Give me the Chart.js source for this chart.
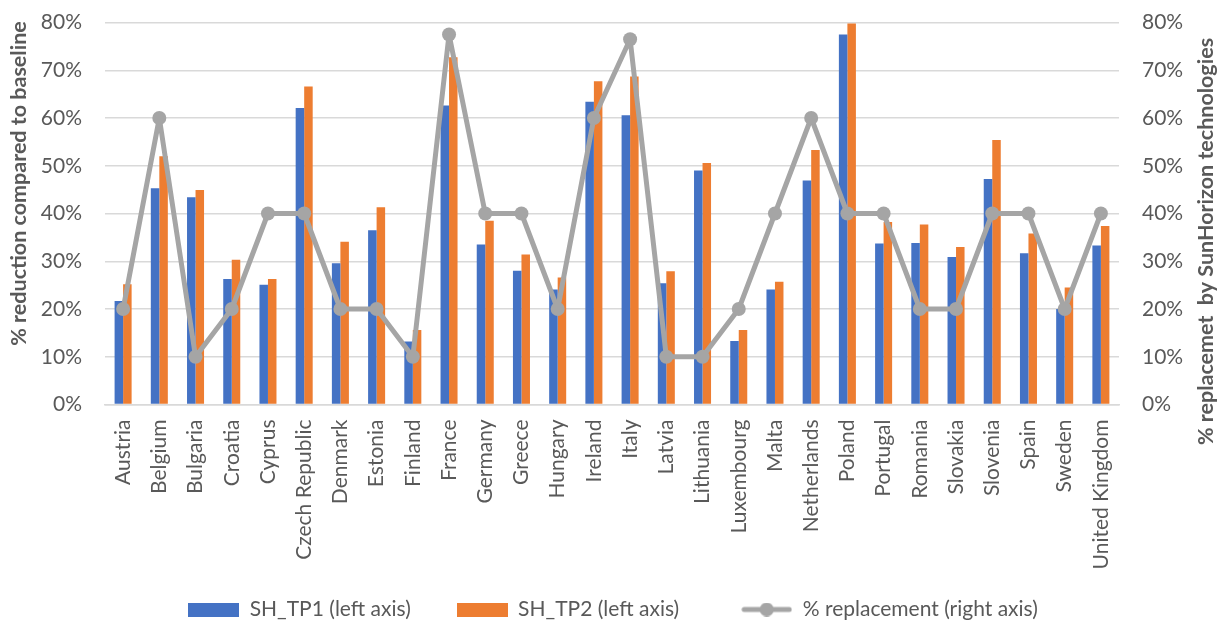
<!DOCTYPE html>
<html>
<head>
<meta charset="utf-8">
<script src="https://cdn.jsdelivr.net/npm/chart.js@4"></script>
<style>
  html, body { margin: 0; padding: 0; background: #ffffff; }
  #wrap { width: 1226px; height: 630px; }
</style>
</head>
<body>
<div id="wrap"><canvas id="chart" width="1226" height="630"></canvas></div>
<script>
// Countries on the category axis
const countries = [
  'Austria', 'Belgium', 'Bulgaria', 'Croatia', 'Cyprus', 'Czech Republic', 'Denmark',
  'Estonia', 'Finland', 'France', 'Germany', 'Greece', 'Hungary', 'Ireland', 'Italy',
  'Latvia', 'Lithuania', 'Luxembourg', 'Malta', 'Netherlands', 'Poland', 'Portugal',
  'Romania', 'Slovakia', 'Slovenia', 'Spain', 'Sweden', 'United Kingdom'
];

// % reduction compared to baseline (left axis)
const shTp1 = [
  21.7, 45.3, 43.4, 26.3, 25.1, 62.1, 29.6, 36.5, 13.2, 62.6, 33.5, 28.0, 24.1, 63.4,
  60.6, 25.4, 49.0, 13.3, 24.1, 46.9, 77.5, 33.7, 33.8, 30.9, 47.2, 31.7, 20.0, 33.3
];
const shTp2 = [
  25.2, 52.0, 44.9, 30.3, 26.3, 66.6, 34.1, 41.3, 15.6, 72.7, 38.5, 31.4, 26.6, 67.7,
  68.7, 27.9, 50.6, 15.6, 25.7, 53.3, 79.8, 38.2, 37.7, 33.0, 55.4, 35.8, 24.5, 37.4
];

// % replacement by SunHorizon technologies (right axis)
const replacement = [
  20, 60, 10, 20, 40, 40, 20, 20, 10, 77.5, 40, 40, 20, 60,
  76.5, 10, 10, 20, 40, 60, 40, 40, 20, 20, 40, 40, 20, 40
];

// Axis tick values (percent)
const axisTicks = [0, 10, 20, 30, 40, 50, 60, 70, 80];

const seriesNames = ['SH_TP1 (left axis)', 'SH_TP2 (left axis)', '% replacement (right axis)'];
const leftTitle = '% reduction compared to baseline';
const rightTitle = '% replacemet  by SunHorizon technologies';

const BLUE = '#4472c4';
const ORANGE = '#ed7d31';
const GREY = '#a5a5a5';
const TEXT = '#595959';
const GRID = '#d9d9d9';
const FONT = 'Lato, "Open Sans", "Noto Sans", sans-serif';

// Legend swatches
function swatch(kind, color) {
  const c = document.createElement('canvas');
  c.width = 51; c.height = 14;
  const g = c.getContext('2d');
  if (kind === 'box') {
    g.fillStyle = color;
    g.fillRect(0, 0, 51, 14);
  } else {
    g.strokeStyle = color;
    g.lineWidth = 5;
    g.lineCap = 'round';
    g.beginPath(); g.moveTo(3, 7); g.lineTo(48, 7); g.stroke();
    g.fillStyle = color;
    g.beginPath(); g.arc(25.5, 7, 7, 0, Math.PI * 2); g.fill();
  }
  return c;
}
const legendMarks = [swatch('box', BLUE), swatch('box', ORANGE), swatch('line', GREY)];
// trailing space widens the first two legend entries so the items sit further apart
const legendGaps = ['     ', '        ', ''];

// Rotated axis titles
const axisTitlePlugin = {
  id: 'axisTitles',
  afterDraw(chart) {
    const ctx = chart.ctx;
    const area = chart.chartArea;
    ctx.save();
    ctx.fillStyle = TEXT;
    ctx.font = 'bold 21.5px ' + FONT;
    ctx.textAlign = 'center';
    ctx.textBaseline = 'middle';
    ctx.save();
    ctx.translate(19, area.top + 161);
    ctx.rotate(-Math.PI / 2);
    ctx.fillText(leftTitle, 0, 0);
    ctx.restore();
    ctx.save();
    ctx.translate(1206, area.top + 219);
    ctx.rotate(-Math.PI / 2);
    ctx.fillText(rightTitle, 0, 0);
    ctx.restore();
    ctx.restore();
  }
};

const pct = v => v + '%';

// Value axes: fixed width, fixed top margin above the 80% line
function fitValueAxis(width) {
  return scale => {
    scale.width = width;
    scale.paddingTop = 22.5;
    scale.paddingBottom = 0;
  };
}

new Chart(document.getElementById('chart'), {
  type: 'bar',
  data: {
    labels: countries,
    datasets: [
      {
        type: 'line',
        label: seriesNames[2],
        data: replacement,
        yAxisID: 'y1',
        borderColor: GREY,
        backgroundColor: GREY,
        borderWidth: 5,
        borderJoinStyle: 'round',
        borderCapStyle: 'round',
        pointRadius: 7,
        pointHoverRadius: 7,
        pointBackgroundColor: GREY,
        pointBorderWidth: 0,
        tension: 0,
        fill: false
      },
      {
        label: seriesNames[0],
        data: shTp1,
        yAxisID: 'y',
        backgroundColor: BLUE,
        borderWidth: 0,
        categoryPercentage: 0.47,
        barPercentage: 1.0
      },
      {
        label: seriesNames[1],
        data: shTp2,
        yAxisID: 'y',
        backgroundColor: ORANGE,
        borderWidth: 0,
        categoryPercentage: 0.47,
        barPercentage: 1.0
      }
    ]
  },
  options: {
    responsive: false,
    animation: false,
    layout: { padding: 0 },
    plugins: {
      tooltip: { enabled: false },
      legend: {
        position: 'bottom',
        labels: {
          usePointStyle: true,
          pointStyleWidth: 51,
          boxHeight: 14,
          padding: 19,
          color: TEXT,
          font: { family: FONT, size: 21 },
          generateLabels() {
            return [1, 2, 0].map((di, k) => ({
              text: seriesNames[k] + legendGaps[k],
              fillStyle: [BLUE, ORANGE, GREY][k],
              strokeStyle: [BLUE, ORANGE, GREY][k],
              lineWidth: 0,
              pointStyle: legendMarks[k],
              fontColor: TEXT,
              hidden: false,
              datasetIndex: di
            }));
          }
        }
      }
    },
    scales: {
      x: {
        grid: { display: false },
        border: { display: true, color: GRID, width: 1.5 },
        ticks: {
          autoSkip: false,
          minRotation: 90,
          maxRotation: 90,
          padding: 7,
          color: TEXT,
          font: { family: FONT, size: 21 }
        },
        afterFit(scale) { scale.height = 175.5; }
      },
      y: {
        position: 'left',
        min: 0,
        max: 80,
        afterBuildTicks(scale) { scale.ticks = axisTicks.map(v => ({ value: v })); },
        grid: { color: GRID, lineWidth: 1.5, drawTicks: false },
        border: { display: false },
        ticks: {
          padding: 23,
          color: TEXT,
          font: { family: FONT, size: 21 },
          callback: pct
        },
        afterFit: fitValueAxis(105)
      },
      y1: {
        position: 'right',
        min: 0,
        max: 80,
        afterBuildTicks(scale) { scale.ticks = axisTicks.map(v => ({ value: v })); },
        grid: { display: false, drawTicks: false },
        border: { display: false },
        ticks: {
          padding: 23,
          color: TEXT,
          font: { family: FONT, size: 21 },
          callback: pct
        },
        afterFit: fitValueAxis(107)
      }
    }
  },
  plugins: [axisTitlePlugin]
});
</script>
</body>
</html>
